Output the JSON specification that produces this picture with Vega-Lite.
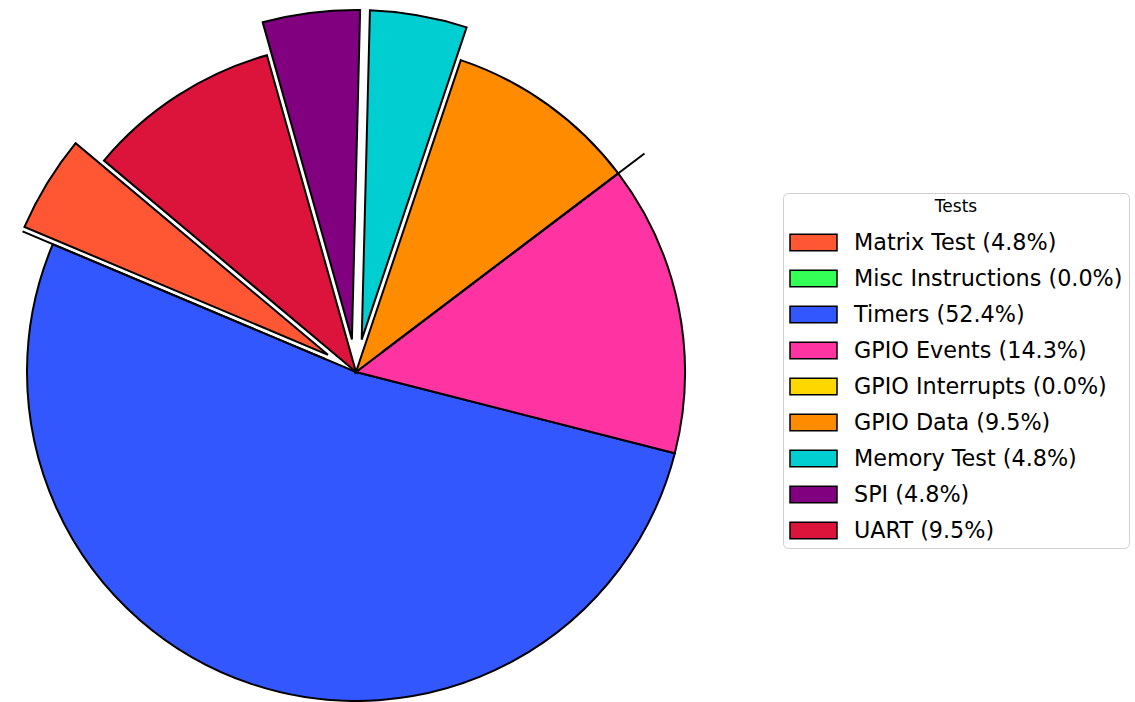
{
  "$schema": "https://vega.github.io/schema/vega-lite/v6.json",
  "width": 712,
  "height": 658,
  "autosize": {"type": "none"},
  "padding": {"left": 0, "top": 43, "right": 423, "bottom": 1},
  "background": "white",
  "config": {"view": {"stroke": null}, "font": "DejaVu Sans"},
  "data": {
    "values": [
      {"test": "Matrix Test", "label": "Matrix Test (4.8%)", "count": 1, "idx": 1},
      {"test": "Misc Instructions", "label": "Misc Instructions (0.0%)", "count": 0, "idx": 2},
      {"test": "Timers", "label": "Timers (52.4%)", "count": 11, "idx": 3},
      {"test": "GPIO Events", "label": "GPIO Events (14.3%)", "count": 3, "idx": 4},
      {"test": "GPIO Interrupts", "label": "GPIO Interrupts (0.0%)", "count": 0, "idx": 5},
      {"test": "GPIO Data", "label": "GPIO Data (9.5%)", "count": 2, "idx": 6},
      {"test": "Memory Test", "label": "Memory Test (4.8%)", "count": 1, "idx": 7},
      {"test": "SPI", "label": "SPI (4.8%)", "count": 1, "idx": 8},
      {"test": "UART", "label": "UART (9.5%)", "count": 2, "idx": 9}
    ]
  },
  "encoding": {
    "theta": {
      "field": "count",
      "type": "quantitative",
      "stack": true,
      "scale": {"range": [-0.872665, -7.155850], "nice": false, "zero": true}
    },
    "order": {"field": "idx", "type": "quantitative"},
    "color": {
      "field": "label",
      "type": "nominal",
      "sort": null,
      "scale": {
        "range": ["#FF5733", "#33FF57", "#3357FF", "#FF33A1", "#FFD700", "#FF8C00", "#00CED1", "#800080", "#DC143C"]
      },
      "legend": {
        "title": "Tests",
        "orient": "none",
        "legendX": 783,
        "legendY": 150,
        "padding": 6,
        "fillColor": "white",
        "strokeColor": "#d0d0d0",
        "cornerRadius": 5,
        "titleFont": "DejaVu Sans",
        "titleFontSize": 17,
        "titleFontWeight": "normal",
        "titleColor": "black",
        "titleAnchor": "middle",
        "titlePadding": 2,
        "labelFont": "DejaVu Sans",
        "labelFontSize": 22.3,
        "labelColor": "black",
        "labelOffset": 16,
        "labelLimit": 400,
        "symbolType": "M-1,-0.35H1V0.35H-1Z",
        "symbolSize": 2209,
        "symbolStrokeColor": "black",
        "symbolStrokeWidth": 1.5,
        "symbolOpacity": 1,
        "rowPadding": 0
      }
    }
  },
  "layer": [
    {
      "mark": {"type": "arc", "stroke": "black", "strokeWidth": 2},
      "encoding": {
        "opacity": {
          "condition": {"test": "indexof(['Matrix Test','Misc Instructions','GPIO Interrupts','Memory Test','SPI'], datum.test) >= 0", "value": 0},
          "value": 1
        }
      }
    },
    {
      "mark": {
        "type": "arc",
        "stroke": "black",
        "strokeWidth": 2,
        "outerRadius": {"expr": "min(width, height) * 0.55"},
        "innerRadius": {"expr": "min(width, height) * 0.05"},
        "padAngle": 0.027
      },
      "encoding": {
        "opacity": {
          "condition": {"test": "indexof(['Matrix Test','Misc Instructions','GPIO Interrupts','Memory Test','SPI'], datum.test) >= 0", "value": 1},
          "value": 0
        }
      }
    }
  ]
}
